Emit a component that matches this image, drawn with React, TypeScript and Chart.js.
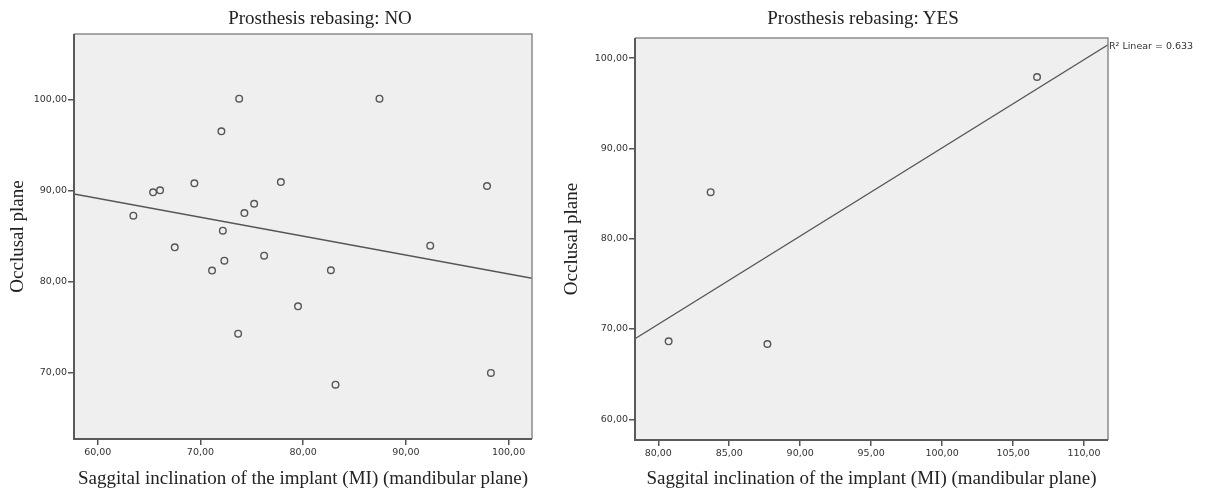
import React, { useEffect, useRef } from 'react';
import { Chart, registerables } from 'chart.js';

Chart.register(...registerables);

// ---- Data: Prosthesis rebasing NO ----
const NO_X = [73.77, 72.04, 69.41, 65.39, 66.07, 77.83, 63.47, 75.23, 74.28, 72.18, 67.5, 87.43, 97.9, 92.37, 71.13, 72.33, 76.2, 73.67, 79.5, 82.7, 83.15, 98.28];
const NO_Y = [100.07, 96.49, 90.78, 89.79, 90.01, 90.92, 87.23, 88.54, 87.52, 85.58, 83.76, 100.07, 90.49, 83.94, 81.2, 82.29, 82.84, 74.28, 77.28, 81.24, 68.68, 69.97];
const NO_FIT_X = [57.69, 102.28];
const NO_FIT_Y = [89.61, 80.36];
const NO_X_RANGE = [57.69, 102.28];
const NO_Y_RANGE = [62.72, 107.17];
const NO_X_TICKS = [60, 70, 80, 90, 100];
const NO_Y_TICKS = [70, 80, 90, 100];

// ---- Data: Prosthesis rebasing YES ----
const YES_X = [80.73, 83.69, 87.69, 106.69];
const YES_Y = [68.64, 85.15, 68.34, 97.9];
const YES_FIT_X = [78.36, 111.69];
const YES_FIT_Y = [68.93, 101.47];
const YES_X_RANGE = [78.36, 111.69];
const YES_Y_RANGE = [57.71, 102.22];
const YES_X_TICKS = [80, 85, 90, 95, 100, 105, 110];
const YES_Y_TICKS = [60, 70, 80, 90, 100];

// ---- Text ----
const TITLE_NO = 'Prosthesis rebasing: NO';
const TITLE_YES = 'Prosthesis rebasing: YES';
const X_TITLE = 'Saggital inclination of the implant (MI) (mandibular plane)';
const Y_TITLE = 'Occlusal plane';
const R2_LABEL = 'R\u00B2 Linear = 0.633';

const SERIF = '"Liberation Serif", "Times New Roman", serif';
const SANS = '"DejaVu Sans", sans-serif';

const fmt = (v: number) => Number(v).toFixed(2).replace('.', ',');

const framePlugin = {
  id: 'frame',
  beforeDraw(chart: any) {
    const { ctx, chartArea: a } = chart;
    ctx.save();
    ctx.fillStyle = '#efefef';
    ctx.fillRect(a.left, a.top, a.right - a.left, a.bottom - a.top);
    ctx.restore();
  },
  afterDraw(chart: any, _args: any, opts: any) {
    const { ctx, chartArea: a } = chart;
    ctx.save();
    ctx.lineWidth = 1.5;
    ctx.strokeStyle = '#8c8c8c';
    ctx.beginPath();
    ctx.moveTo(a.left, a.top);
    ctx.lineTo(a.right, a.top);
    ctx.lineTo(a.right, a.bottom);
    ctx.stroke();
    ctx.lineWidth = 2;
    ctx.strokeStyle = '#5a5a5a';
    ctx.beginPath();
    ctx.moveTo(a.left, a.top);
    ctx.lineTo(a.left, a.bottom);
    ctx.lineTo(a.right, a.bottom);
    ctx.stroke();
    if (opts && opts.label) {
      const meta = chart.getDatasetMeta(1);
      const last = meta.data[meta.data.length - 1];
      ctx.fillStyle = '#333';
      ctx.font = '9.5px ' + SANS;
      ctx.textAlign = 'left';
      ctx.textBaseline = 'middle';
      ctx.fillText(opts.label, last.x + 1, last.y + 1.5);
    }
    ctx.restore();
  },
};

type PanelCfg = {
  xs: number[]; ys: number[]; fitX: number[]; fitY: number[];
  xRange: number[]; yRange: number[]; xTicks: number[]; yTicks: number[];
  padding: { left: number; right: number; top: number; bottom: number };
  yAxisWidth: number; xAxisHeight: number; yTitlePad: number; label?: string;
};

function buildConfig(c: PanelCfg): any {
  const tickGrid = { drawOnChartArea: false, drawTicks: true, tickLength: 6, color: '#555', lineWidth: 1.5 };
  return {
    type: 'scatter',
    data: {
      datasets: [
        {
          data: c.xs.map((x, i) => ({ x, y: c.ys[i] })),
          pointRadius: 3.3,
          pointBorderWidth: 1.4,
          pointBorderColor: '#555',
          pointBackgroundColor: 'rgba(0,0,0,0)',
          showLine: false,
        },
        {
          data: c.fitX.map((x, i) => ({ x, y: c.fitY[i] })),
          showLine: true,
          pointRadius: 0,
          borderColor: '#555',
          borderWidth: 1.3,
          fill: false,
        },
      ],
    },
    options: {
      animation: false,
      responsive: false,
      events: [],
      layout: { padding: c.padding },
      plugins: {
        legend: { display: false },
        tooltip: { enabled: false },
        frame: { label: c.label },
      },
      scales: {
        x: {
          type: 'linear',
          min: c.xRange[0],
          max: c.xRange[1],
          afterBuildTicks: (s: any) => { s.ticks = c.xTicks.map((v) => ({ value: v })); },
          afterFit: (s: any) => { s.height = c.xAxisHeight; },
          grid: tickGrid,
          border: { display: false },
          ticks: {
            callback: (v: any) => fmt(v),
            color: '#333',
            font: { family: SANS, size: 9.5 },
            padding: 2,
            maxRotation: 0,
            autoSkip: false,
          },
          title: {
            display: true,
            text: X_TITLE,
            color: '#222',
            font: { family: SERIF, size: 19 },
            padding: { top: 0, bottom: 4 },
          },
        },
        y: {
          type: 'linear',
          min: c.yRange[0],
          max: c.yRange[1],
          afterBuildTicks: (s: any) => { s.ticks = c.yTicks.map((v) => ({ value: v })); },
          afterFit: (s: any) => { s.width = c.yAxisWidth; },
          grid: tickGrid,
          border: { display: false },
          ticks: {
            callback: (v: any) => fmt(v),
            color: '#333',
            font: { family: SANS, size: 9.5 },
            padding: 1,
            autoSkip: false,
          },
          title: {
            display: true,
            text: Y_TITLE,
            color: '#222',
            font: { family: SERIF, size: 19 },
            padding: { top: c.yTitlePad, bottom: 0 },
          },
        },
      },
    },
    plugins: [framePlugin],
  };
}

function Panel({ cfg, left, width }: { cfg: PanelCfg; left: number; width: number }) {
  const ref = useRef<HTMLCanvasElement | null>(null);
  useEffect(() => {
    if (!ref.current) return;
    const chart = new Chart(ref.current, buildConfig(cfg));
    return () => chart.destroy();
  }, []);
  return (
    <canvas
      ref={ref}
      width={width}
      height={494}
      style={{ position: 'absolute', left, top: 0, width, height: 494 }}
    />
  );
}

const titleStyle = (center: number): React.CSSProperties => ({
  position: 'absolute',
  left: center,
  top: 8,
  transform: 'translateX(-50%)',
  whiteSpace: 'nowrap',
  fontFamily: SERIF,
  fontSize: 19,
  lineHeight: '19px',
  color: '#222',
});

export default function App() {
  const noCfg: PanelCfg = {
    xs: NO_X, ys: NO_Y, fitX: NO_FIT_X, fitY: NO_FIT_Y,
    xRange: NO_X_RANGE, yRange: NO_Y_RANGE, xTicks: NO_X_TICKS, yTicks: NO_Y_TICKS,
    padding: { left: 0, right: 28, top: 34, bottom: 0 },
    yAxisWidth: 74, xAxisHeight: 55, yTitlePad: 7,
  };
  const yesCfg: PanelCfg = {
    xs: YES_X, ys: YES_Y, fitX: YES_FIT_X, fitY: YES_FIT_Y,
    xRange: YES_X_RANGE, yRange: YES_Y_RANGE, xTicks: YES_X_TICKS, yTicks: YES_Y_TICKS,
    padding: { left: 0, right: 98, top: 38, bottom: 0 },
    yAxisWidth: 75, xAxisHeight: 54, yTitlePad: 0.5, label: R2_LABEL,
  };
  return (
    <div style={{ position: 'absolute', left: 0, top: 0, width: 1206, height: 494, background: '#fff', overflow: 'hidden' }}>
      <Panel cfg={noCfg} left={0} width={560} />
      <Panel cfg={yesCfg} left={560} width={646} />
      <div style={titleStyle(320)}>{TITLE_NO}</div>
      <div style={titleStyle(863)}>{TITLE_YES}</div>
    </div>
  );
}
